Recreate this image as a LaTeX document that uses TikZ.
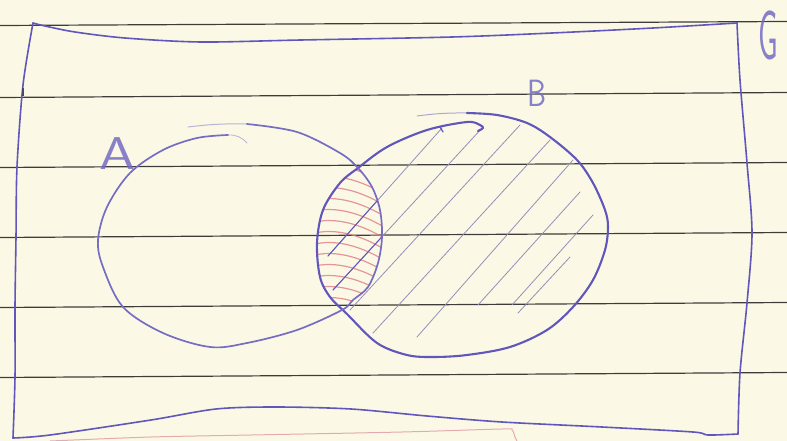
\documentclass[tikz,border=0pt]{standalone}
\definecolor{paper}{RGB}{251,249,229}
\definecolor{rulegray}{RGB}{62,60,58}
\definecolor{ink}{RGB}{96,86,188}
\definecolor{inkA}{RGB}{118,108,196}
\definecolor{hatch}{RGB}{150,142,185}
\definecolor{redhatch}{RGB}{222,125,135}
\definecolor{pinkline}{RGB}{228,170,178}
\tikzset{
  ruled/.style={rulegray, line width=1.2pt},
  frame/.style={ink, line width=1.6pt, line cap=round, line join=round},
  setA/.style={inkA, line width=1.7pt, line cap=round, line join=round},
  setB/.style={ink, line width=2.1pt, line cap=round, line join=round},
  hatchline/.style={hatch, line width=0.8pt, line cap=round},
  darkhatch/.style={ink, line width=1pt, line cap=round},
  redline/.style={redhatch, line width=1.2pt, line cap=round, opacity=0.8},
  setlabel/.style={inkA, font=\sffamily, inner sep=0pt, opacity=0.85},
}
\begin{document}
\begin{tikzpicture}[x=1pt,y=-1pt]
\fill[paper] (0,0) rectangle (787,441);
\useasboundingbox (0,0) rectangle (787,441);
% ruled lines of the paper
\foreach \yl/\yr in {25.5/21.5, 97.5/92.5, 167.5/162.5, 237.5/232.5, 307.5/302.5, 377.5/372.5}
  \draw[ruled] (0,\yl) -- (787,\yr);
% frame (universal set)
\draw[frame] plot[smooth, tension=0.5] coordinates {(33,23) (45,26) (75,32) (125,38) (201,42) (301,40) (452,37) (552,33) (653,28) (737,23)};
\draw[frame] plot[smooth, tension=0.5] coordinates {(737,23) (740,80) (747,163) (752,233) (747,303) (740,373) (738,434)};
\draw[frame] plot[smooth, tension=0.5] coordinates {(738,434) (708,435) (693,432) (602,427) (502,422) (427,416) (351,409) (276,407) (216,409) (151,420) (50,435) (13,438)};
\draw[frame] plot[smooth, tension=0.5] coordinates {(13,438) (15,377) (15,307) (16,237) (17,167) (23,85) (33,23)};
\draw[rulegray!60!ink, line width=2.4pt] (23,88) -- (23,96);
% pink line at the bottom
\draw[pinkline, line width=1pt] plot[smooth, tension=0.5] coordinates {(50,441) (151,437) (251,435) (402,432) (502,429) (512,430) (515,437) (517,441)};
% hatching of B
\draw[hatchline] (328,256) -- (442,128);
\draw[hatchline] (333,290) -- (483,127);
\draw[hatchline] (350,310) -- (520,125);
\draw[hatchline] (373,333) -- (550,140);
\draw[hatchline] (417,337) -- (573,160);
\draw[hatchline] (478,305) -- (580,192);
\draw[hatchline] (512,305) -- (593,215);
\draw[hatchline] (518,313) -- (570,257);
% red hatching of the intersection
\begin{scope}
  \clip plot[smooth cycle, tension=0.55] coordinates {(467,113) (497,115) (527,123) (550,137) (577,160) (593,183) (605,210) (608,227) (605,250) (593,280) (573,307) (547,330) (510,347) (467,355) (433,357) (407,355) (377,343) (347,314) (330,297) (320,277) (317,243) (323,210) (340,183) (358,168) (387,147) (427,130)};
  \clip plot[smooth cycle, tension=0.55] coordinates {(247,124) (297,132) (340,153) (358,168) (372,187) (380,210) (382,237) (378,263) (368,287) (353,300) (342,310) (297,330) (247,343) (210,347) (163,333) (123,307) (103,267) (98,240) (107,207) (130,173) (163,150) (197,134)};
  \foreach \y in {170,181,...,302}
    \draw[redline] (305,\y) .. controls (330,\y-10) and (360,\y-3) .. (392,\y+18);
  \draw[darkhatch] (328,256) -- (442,128);
  \draw[darkhatch] (333,290) -- (483,127);
  \draw[darkhatch] (350,310) -- (520,125);
\end{scope}
% set B
\draw[setB, line width=1pt, opacity=0.5] (417,116) to[bend left=4] (467,113);
\draw[setB] plot[smooth, tension=0.55] coordinates {(467,113) (497,115) (527,123) (550,137) (577,160) (593,183) (605,210) (608,227) (605,250) (593,280) (573,307) (547,330) (510,347) (467,355) (433,357) (407,355) (377,343) (347,314) (330,297) (320,277) (317,243) (323,210) (340,183) (358,168) (387,147) (427,130) (467,122) (480,125) (483,128) (478,131)};
\draw[setB, line width=1.2pt] (440,127) -- (443,132);
% set A
\draw[setA, line width=1pt, opacity=0.5] (188,127) to[bend left=4] (247,124);
\draw[setA] plot[smooth, tension=0.55] coordinates {(247,124) (297,132) (340,153) (358,168) (372,187) (380,210) (382,237) (378,263) (368,287) (353,300) (342,310) (297,330) (247,343) (210,347) (163,333) (123,307) (103,267) (98,240) (107,207) (130,173) (163,150) (197,138) (228,135)};
\draw[setA, line width=0.8pt, opacity=0.5] (228,135) to[bend left=25] (247,143);
% labels
\node[setlabel, font=\sffamily\fontsize{46}{46}\selectfont] (labA) at (117,154) {\scalebox{1.25}[1]{A}};
\node[setlabel, font=\sffamily\fontsize{38}{38}\selectfont] (labB) at (537,93) {\scalebox{0.8}[1]{B}};
\node[setlabel, font=\sffamily\fontsize{70}{70}\selectfont] (labG) at (768,35) {\scalebox{0.45}[1]{G}};
\end{tikzpicture}
\end{document}
